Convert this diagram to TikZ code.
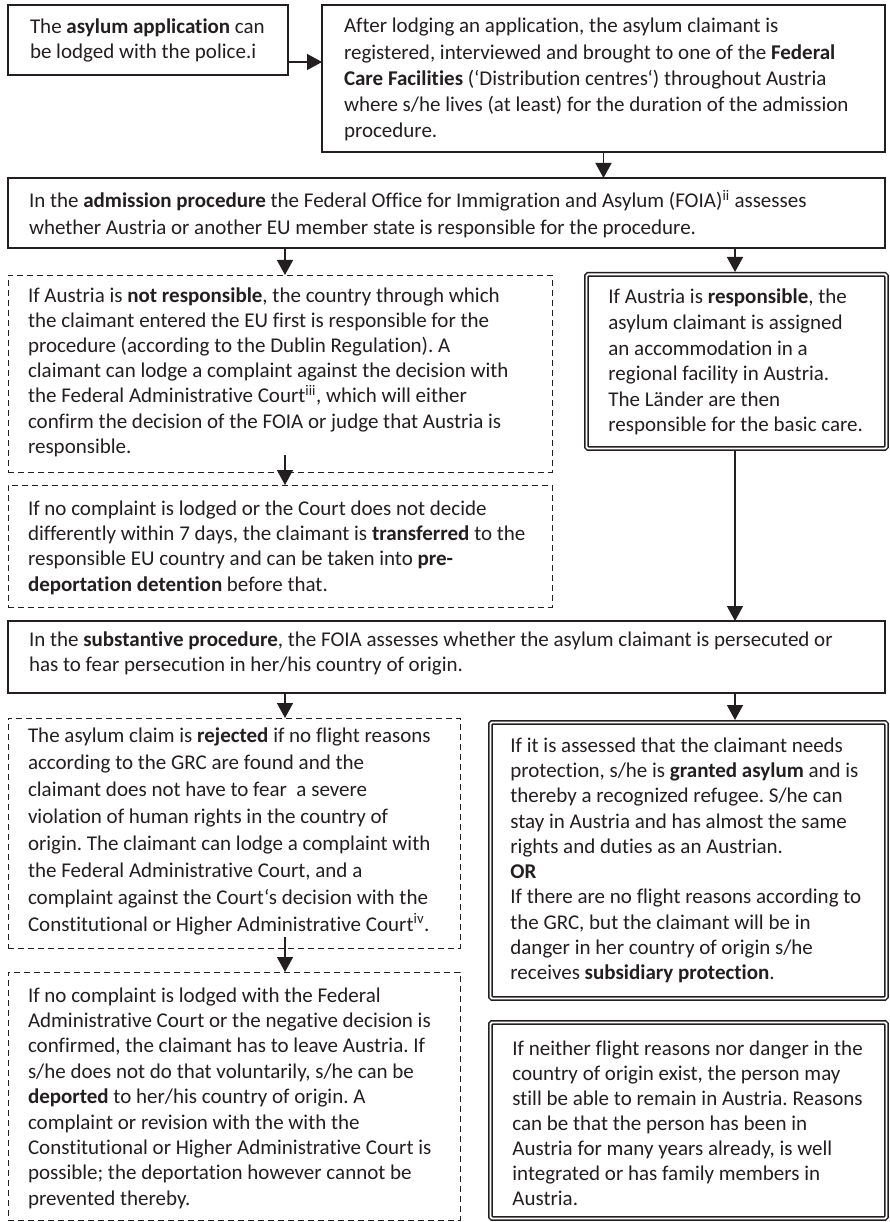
\documentclass[tikz,border=0pt]{standalone}
\usepackage{fontspec}
\setmainfont{Carlito}[Ligatures=NoCommon]
\usetikzlibrary{arrows.meta}

\definecolor{ink}{RGB}{35,31,32}
\frenchspacing

% box text: [line skip]{width}{height}{first baseline}{text}
\newcommand{\flowtext}[5][25.4pt]{\makebox[#2][l]{\parbox[c][#3][t]{\dimexpr#2+80pt\relax}{\raggedright\fontsize{21pt}{#1}\selectfont\rule{0pt}{#4}#5}}}

\begin{document}
\begin{tikzpicture}[x=1pt,y=-1pt,
	solidbox/.style={draw=ink, line width=1.2pt, anchor=north west, inner ysep=0pt, outer sep=0pt, text=ink},
	dashbox/.style={solidbox, line width=0.9pt, dash pattern=on 6pt off 4pt},
	dblbox/.style={solidbox, double, line width=1.5pt, double distance=1.8pt, rounded corners=1.5pt, outer sep=2.4pt},
	arr/.style={-{Triangle[width=16pt,length=15pt]}, draw=ink, line width=1.4pt}]

		\path[fill=white] (0,0) rectangle (889,1222);

		\node[solidbox, inner xsep=22pt] (app) at (8,5) {\flowtext{236pt}{70pt}{28.5pt}{The \textbf{asylum application} can\\be lodged with the police.i}};
		\node[solidbox, inner xsep=22pt] (lodge) at (322,5) {\flowtext[26.2pt]{519pt}{147pt}{28pt}{After lodging an application, the asylum claimant is\\registered, interviewed and brought to one of the \textbf{Federal}\\\textbf{Care Facilities} (‘Distribution centres‘) throughout Austria\\where s/he lives (at least) for the duration of the admission\\procedure.}};

		\node[solidbox, inner xsep=21pt] (admission) at (8,178) {\flowtext[27pt]{835pt}{70pt}{30pt}{In the \textbf{admission procedure} the Federal Office for Immigration and Asylum (FOIA)\textsuperscript{ii} assesses\\whether Austria or another EU member state is responsible for the procedure.}};

		\node[dashbox, inner xsep=20pt] (notresp) at (8,275) {\flowtext[25.2pt]{504pt}{197pt}{27pt}{If Austria is \textbf{not responsible}, the country through which\\the claimant entered the EU first is responsible for the\\procedure (according to the Dublin Regulation). A\\claimant can lodge a complaint against the decision with\\the Federal Administrative Court\textsuperscript{iii}, which will either\\confirm the decision of the FOIA or judge that Austria is\\responsible.}};
		\node[dashbox, inner xsep=20pt] (transfer) at (8,485) {\flowtext{504pt}{122pt}{30pt}{If no complaint is lodged or the Court does not decide\\differently within 7 days, the claimant is \textbf{transferred} to the\\responsible EU country and can be taken into \textbf{pre-}\\\textbf{deportation detention} before that.}};

		\node[dblbox, inner xsep=22pt] (resp) at (584,272) {\flowtext[25.6pt]{256pt}{174pt}{29.5pt}{If Austria is \textbf{responsible}, the\\asylum claimant is assigned\\an accommodation in a\\regional facility in Austria.\\The Länder are then\\responsible for the basic care.}};

		\node[solidbox, inner xsep=21pt] (substantive) at (8,621) {\flowtext[25pt]{835pt}{72pt}{25.5pt}{In the \textbf{substantive procedure}, the FOIA assesses whether the asylum claimant is persecuted or\\has to fear persecution in her/his country of origin.}};

		\node[dashbox, inner xsep=20pt] (rejected) at (8,718) {\flowtext[27pt]{412pt}{230pt}{24pt}{The asylum claim is \textbf{rejected} if no flight reasons\\according to the GRC are found and the\\claimant does not have to fear \ a severe\\violation of human rights in the country of\\origin. The claimant can lodge a complaint with\\the Federal Administrative Court, and a\\complaint against the Court‘s decision with the\\Constitutional or Higher Administrative Court\textsuperscript{iv}.}};
		\node[dashbox, inner xsep=20pt] (deport) at (8,972) {\flowtext{412pt}{248pt}{30pt}{If no complaint is lodged with the Federal\\Administrative Court or the negative decision is\\confirmed, the claimant has to leave Austria. If\\s/he does not do that voluntarily, s/he can be\\\textbf{deported} to her/his country of origin. A\\complaint or revision with the with the\\Constitutional or Higher Administrative Court is\\possible; the deportation however cannot be\\prevented thereby.}};

		\node[dblbox, inner xsep=20pt] (granted) at (488,720) {\flowtext[25.3pt]{356pt}{276pt}{29.7pt}{If it is assessed that the claimant needs\\protection, s/he is \textbf{granted asylum} and is\\thereby a recognized refugee. S/he can\\stay in Austria and has almost the same\\rights and duties as an Austrian.\\\textbf{OR}\\If there are no flight reasons according to\\the GRC, but the claimant will be in\\danger in her country of origin s/he\\receives \textbf{subsidiary protection}.}};
		\node[dblbox, inner xsep=22pt] (remain) at (488,1020) {\flowtext[25pt]{352pt}{196pt}{33pt}{If neither flight reasons nor danger in the\\country of origin exist, the person may\\still be able to remain in Austria. Reasons\\can be that the person has been in\\Austria for many years already, is well\\integrated or has family members in\\Austria.}};

		\coordinate (colL) at (285,0);
		\coordinate (colR) at (735,0);

		\draw[arr] ([yshift=-22pt]app.east) -- ([yshift=-22pt]app.east -| lodge.west);
		\draw[arr] (lodge.south) -- (lodge.south |- admission.north);
		\draw[arr] (admission.south -| colL) -- (notresp.north -| colL);
		\draw[arr] (admission.south -| colR) -- (resp.north -| colR);
		\draw[arr] ([yshift=17pt]notresp.south -| colL) -- (transfer.north -| colL);
		\draw[arr] (resp.south -| colR) -- (substantive.north -| colR);
		\draw[arr] (substantive.south -| colL) -- (rejected.north -| colL);
		\draw[arr] (substantive.south -| colR) -- (granted.north -| colR);
		\draw[arr] ([yshift=11pt]rejected.south -| colL) -- (deport.north -| colL);
	\end{tikzpicture}
\end{document}
